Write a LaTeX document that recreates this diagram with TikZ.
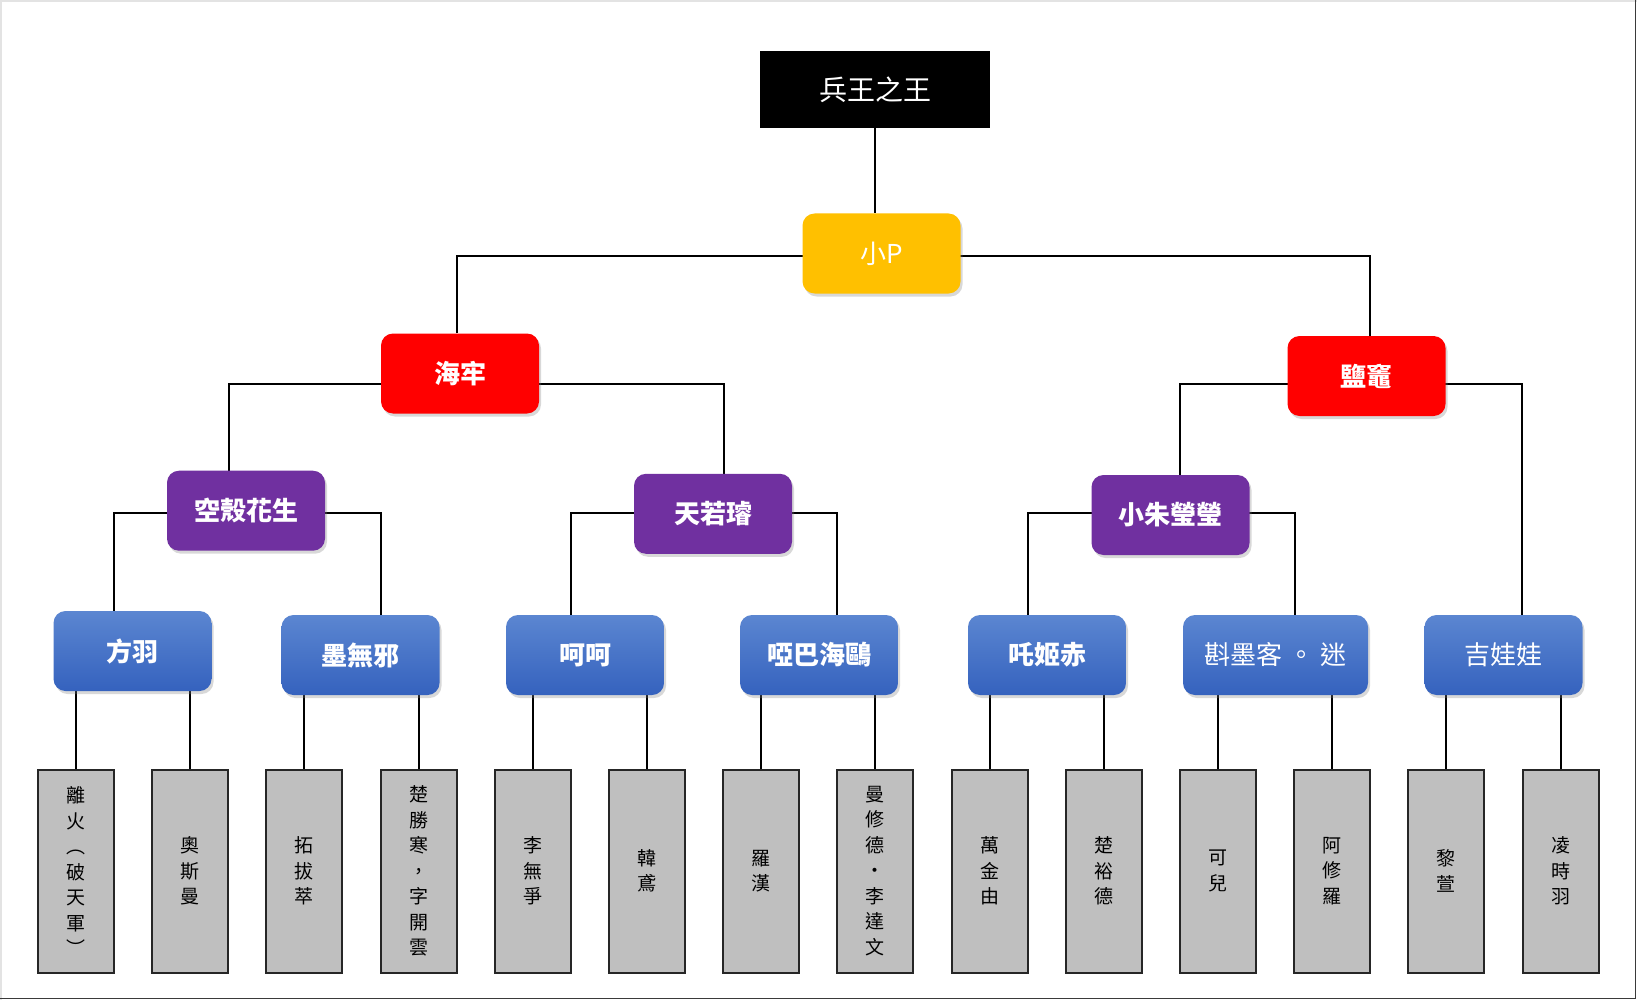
\documentclass[tikz,border=0pt]{standalone}
\usepackage{fontspec}
\newfontfamily\cjk{Noto Sans CJK TC}
\usetikzlibrary{shadows}
\pgfdeclarelayer{background}
\pgfsetlayers{background,main}
\definecolor{gold}{HTML}{FFC000}
\definecolor{pur}{HTML}{7030A0}
\definecolor{bluetop}{HTML}{5B86D1}
\definecolor{bluebot}{HTML}{3562BE}
\definecolor{grayfill}{HTML}{BFBFBF}
\definecolor{grayedge}{HTML}{262626}
\definecolor{framelight}{HTML}{E3E3E3}
\definecolor{framedark}{HTML}{3A3A3A}
\tikzset{
  base/.style={inner sep=0pt, text=white, font=\cjk\fontsize{26}{30}\selectfont},
  topbox/.style={base, fill=black, minimum width=230pt, minimum height=77pt, font=\cjk\fontsize{28}{32}\selectfont},
  rbox/.style={base, rounded corners=12pt, minimum width=158pt, minimum height=80pt,
    drop shadow={opacity=0.3, shadow xshift=2pt, shadow yshift=-3pt}},
  yelbox/.style={rbox, fill=gold},
  redbox/.style={rbox, fill=red, font=\cjk\bfseries\fontsize{26}{30}\selectfont},
  purbox/.style={rbox, fill=pur, font=\cjk\bfseries\fontsize{26}{30}\selectfont},
  bluebox/.style={rbox, top color=bluetop, bottom color=bluebot, font=\cjk\bfseries\fontsize{26}{30}\selectfont},
  bluelight/.style={rbox, top color=bluetop, bottom color=bluebot, font=\cjk\fontsize{26}{30}\selectfont},
  graybox/.style={draw=grayedge, line width=2pt, fill=grayfill, minimum width=76pt, minimum height=203pt,
    inner sep=0pt, align=center, text=black, font=\cjk\fontsize{19}{25.5}\selectfont},
  conn/.style={line width=2pt, black},
}
\begin{document}
\begin{tikzpicture}[x=1pt, y=-1pt]
\useasboundingbox (0,0) rectangle (1637,1000);
% level 0-2
\node[topbox] (top) at (875,89.5) {兵王之王};
\node[yelbox] (xp) at (881.5,253.5) {小P};
\node[redbox] (hailao) at (460,373.5) {海牢};
\node[redbox] (yanzao) at (1366.5,376) {鹽竈};
% level 3
\node[purbox] (khhs) at (246,510.7) {空殼花生};
\node[purbox] (tr) at (713,513.8) {天若璿};
\node[purbox] (xzyy) at (1170.5,515) {小朱瑩瑩};
% level 4
\node[bluebox] (fy) at (132.5,651) {方羽};
\node[bluebox] (mwx) at (360.5,655) {墨無邪};
\node[bluebox] (hh) at (585,655) {呵呵};
\node[bluebox] (ybho) at (819,655) {啞巴海鷗};
\node[bluebox] (zjc) at (1047,655) {吒姬赤};
\node[bluelight, minimum width=185pt] (zmk) at (1275.5,655) {斟墨客 。 迷};
\node[bluelight] (jww) at (1503.5,655) {吉娃娃};
% gray boxes
\node[graybox] (g0) at (76,871) {離\\火\\︵\\破\\天\\軍\\︶};
\node[graybox] (g1) at (190.2,871) {奧\\斯\\曼};
\node[graybox] (g2) at (304.4,871) {拓\\拔\\萃};
\node[graybox] (g3) at (418.6,871) {楚\\勝\\寒\\，\\字\\開\\雲};
\node[graybox] (g4) at (532.8,871) {李\\無\\爭};
\node[graybox] (g5) at (647,871) {韓\\鳶};
\node[graybox] (g6) at (761.2,871) {羅\\漢};
\node[graybox] (g7) at (875.4,871) {曼\\修\\德\\・\\李\\達\\文};
\node[graybox] (g8) at (989.6,871) {萬\\金\\由};
\node[graybox] (g9) at (1103.8,871) {楚\\裕\\德};
\node[graybox] (g10) at (1218,871) {可\\兒};
\node[graybox] (g11) at (1332.2,871) {阿\\修\\羅};
\node[graybox] (g12) at (1446.4,871) {黎\\萱};
\node[graybox] (g13) at (1560.6,871) {凌\\時\\羽};
\begin{pgfonlayer}{background}
  \fill[white] (0,0) rectangle (1637,1000);
  \draw[framelight, line width=2pt] (1,1000) -- (1,1) -- (1637,1);
  \draw[framedark, line width=1.5pt] (1635.5,0) -- (1635.5,998.5) -- (0,998.5);
  \draw[conn] (top.south) -- (top.south |- xp.north);
  \draw[conn] ([xshift=-3pt]hailao.north) |- ([yshift=-2.5pt]xp.center) -| ([xshift=3.5pt]yanzao.north);
  \draw[conn] ([xshift=-17.3pt]khhs.north) |- ([yshift=-10.8pt]hailao.center) -| ([xshift=10.5pt]tr.north);
  \draw[conn] ([xshift=9.5pt]xzyy.north) |- ([yshift=-8.3pt]yanzao.center) -| ([xshift=18.5pt]jww.north);
  \draw[conn] ([xshift=-18.5pt]fy.north) |- ([yshift=-2pt]khhs.center) -| ([xshift=20.2pt]mwx.north);
  \draw[conn] ([xshift=-14pt]hh.north) |- ([yshift=1pt]tr.center) -| ([xshift=18.3pt]ybho.north);
  \draw[conn] ([xshift=-19pt]zjc.north) |- ([yshift=2pt]xzyy.center) -| ([xshift=19.5pt]zmk.north);
  \draw[conn] (g0.north) -- (g0.north |- fy.south);
  \draw[conn] (g1.north) -- (g1.north |- fy.south);
  \draw[conn] (g2.north) -- (g2.north |- mwx.south);
  \draw[conn] (g3.north) -- (g3.north |- mwx.south);
  \draw[conn] (g4.north) -- (g4.north |- hh.south);
  \draw[conn] (g5.north) -- (g5.north |- hh.south);
  \draw[conn] (g6.north) -- (g6.north |- ybho.south);
  \draw[conn] (g7.north) -- (g7.north |- ybho.south);
  \draw[conn] (g8.north) -- (g8.north |- zjc.south);
  \draw[conn] (g9.north) -- (g9.north |- zjc.south);
  \draw[conn] (g10.north) -- (g10.north |- zmk.south);
  \draw[conn] (g11.north) -- (g11.north |- zmk.south);
  \draw[conn] (g12.north) -- (g12.north |- jww.south);
  \draw[conn] (g13.north) -- (g13.north |- jww.south);
\end{pgfonlayer}
\end{tikzpicture}
\end{document}
